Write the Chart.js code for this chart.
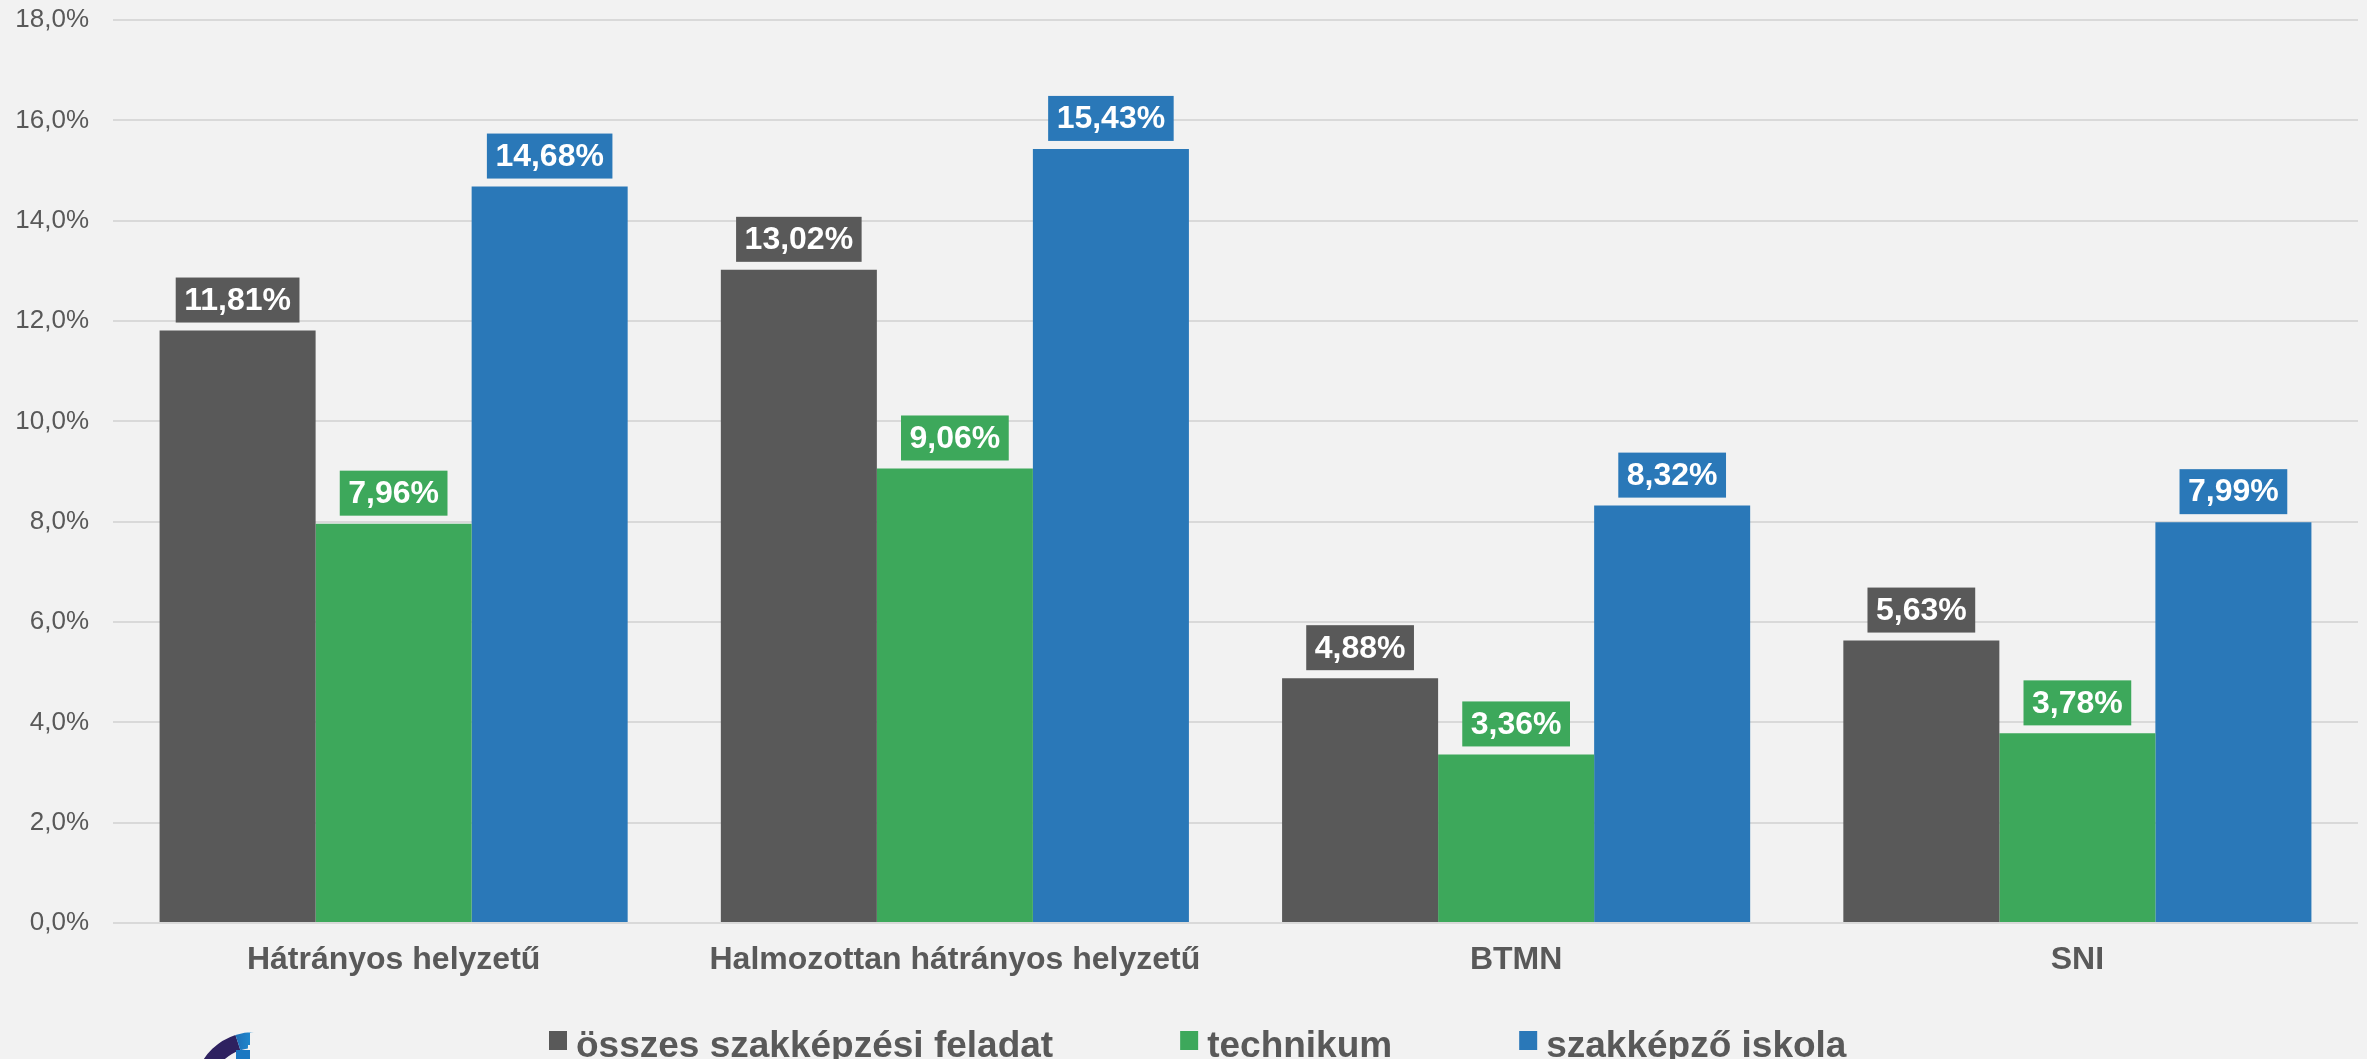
<!DOCTYPE html>
<html>
<head>
<meta charset="utf-8">
<script src="https://cdn.jsdelivr.net/npm/chart.js@4"></script>
<style>
  html, body { margin: 0; padding: 0; background: #F2F2F2; }
  #wrap { width: 2367px; height: 1059px; }
</style>
</head>
<body>
<div id="wrap"><canvas id="c" width="2367" height="1059"></canvas></div>
<script>
const categories = ['Hátrányos helyzetű', 'Halmozottan hátrányos helyzetű', 'BTMN', 'SNI'];
const seriesNames = ['összes szakképzési feladat', 'technikum', 'szakképző iskola'];
const osszesValues = [11.81, 13.02, 4.88, 5.63];
const technikumValues = [7.96, 9.06, 3.36, 3.78];
const szakkepzoValues = [14.68, 15.43, 8.32, 7.99];
const yTickValues = [0, 2, 4, 6, 8, 10, 12, 14, 16, 18];
const seriesColors = ['#595959', '#3DA85B', '#2A78B8'];

const FONT = "'Liberation Sans', Arial, sans-serif";
const TEXT = '#595959';

function fmtPct(v, d) { return v.toFixed(d).replace('.', ',') + '%'; }

const bgPlugin = {
  id: 'bg',
  beforeDraw(chart) {
    const ctx = chart.ctx;
    ctx.save();
    ctx.fillStyle = '#F2F2F2';
    ctx.fillRect(0, 0, chart.width, chart.height);
    ctx.restore();
  }
};

const labelPlugin = {
  id: 'boxLabels',
  afterDatasetsDraw(chart) {
    const ctx = chart.ctx;
    ctx.save();
    ctx.font = "bold 32px " + FONT;
    ctx.textAlign = 'center';
    ctx.textBaseline = 'middle';
    chart.data.datasets.forEach((ds, di) => {
      const meta = chart.getDatasetMeta(di);
      meta.data.forEach((el, i) => {
        const txt = fmtPct(ds.data[i], 2);
        const w = ctx.measureText(txt).width + 17;
        const h = 45;
        const bottom = el.y - 8;
        ctx.fillStyle = ds.backgroundColor;
        ctx.fillRect(el.x - w / 2, bottom - h, w, h);
        ctx.fillStyle = '#FFFFFF';
        ctx.fillText(txt, el.x, bottom - h / 2 + 1);
      });
    });
    ctx.restore();
  }
};

const legendPlugin = {
  id: 'customLegend',
  afterDraw(chart) {
    const ctx = chart.ctx;
    ctx.save();
    ctx.font = "bold 37px " + FONT;
    ctx.textBaseline = 'alphabetic';
    ctx.textAlign = 'left';
    let x = 549;
    const baseline = 1057;
    chart.data.datasets.forEach((ds) => {
      ctx.fillStyle = ds.backgroundColor;
      ctx.fillRect(x, 1031, 18, 19);
      x += 27;
      ctx.fillStyle = TEXT;
      ctx.fillText(ds.label, x, baseline);
      x += ctx.measureText(ds.label).width + 127;
    });
    // partial logo bottom-left
    const cx = 254, cy = 1092, ro = 60, ri = 44;
    ctx.beginPath();
    ctx.arc(cx, cy, ro, Math.PI * 200 / 180, Math.PI * 252 / 180);
    ctx.arc(cx, cy, ri, Math.PI * 252 / 180, Math.PI * 200 / 180, true);
    ctx.closePath();
    ctx.fillStyle = '#2E2160';
    ctx.fill();
    ctx.beginPath();
    ctx.arc(cx, cy, ro, Math.PI * 252 / 180, Math.PI * 270 / 180);
    ctx.lineTo(250, cy - ro);
    ctx.lineTo(250, 1045);
    ctx.lineTo(cx - 6, 1045);
    ctx.arc(cx, cy, ri, Math.PI * 262 / 180, Math.PI * 252 / 180, true);
    ctx.closePath();
    const g = ctx.createLinearGradient(225, 0, 250, 0);
    g.addColorStop(0, '#1E5FA8');
    g.addColorStop(1, '#1F86CC');
    ctx.fillStyle = g;
    ctx.fill();
    ctx.fillStyle = '#1B78C2';
    ctx.fillRect(236, 1050, 14, 9);
    ctx.restore();
  }
};

new Chart(document.getElementById('c'), {
  type: 'bar',
  data: {
    labels: categories,
    datasets: [
      { label: seriesNames[0], data: osszesValues, backgroundColor: seriesColors[0] },
      { label: seriesNames[1], data: technikumValues, backgroundColor: seriesColors[1] },
      { label: seriesNames[2], data: szakkepzoValues, backgroundColor: seriesColors[2] }
    ]
  },
  options: {
    responsive: false,
    animation: false,
    devicePixelRatio: 1,
    layout: { autoPadding: false, padding: { top: 20, right: 9, bottom: 76, left: 0 } },
    datasets: { bar: { categoryPercentage: 0.834, barPercentage: 1.0, borderWidth: 0 } },
    plugins: {
      legend: { display: false },
      tooltip: { enabled: false }
    },
    scales: {
      x: {
        grid: { display: false, drawTicks: false },
        border: { display: false },
        ticks: {
          color: TEXT,
          font: { family: FONT, size: 32, weight: 'bold' },
          padding: 18,
          maxRotation: 0
        },
        afterFit(scale) { scale.height = 60; scale.paddingLeft = 0; scale.paddingRight = 0; }
      },
      y: {
        min: 0,
        max: 18,
        afterBuildTicks(scale) { scale.ticks = yTickValues.map(v => ({ value: v })); },
        grid: { color: '#D9D9D9', lineWidth: 2, drawTicks: false },
        border: { display: false },
        ticks: {
          color: TEXT,
          font: { family: FONT, size: 26 },
          padding: 24,
          callback: (v) => fmtPct(v, 1)
        },
        afterFit(scale) { scale.width = 113; scale.paddingTop = 0; scale.paddingBottom = 0; }
      }
    }
  },
  plugins: [bgPlugin, labelPlugin, legendPlugin]
});
</script>
</body>
</html>
